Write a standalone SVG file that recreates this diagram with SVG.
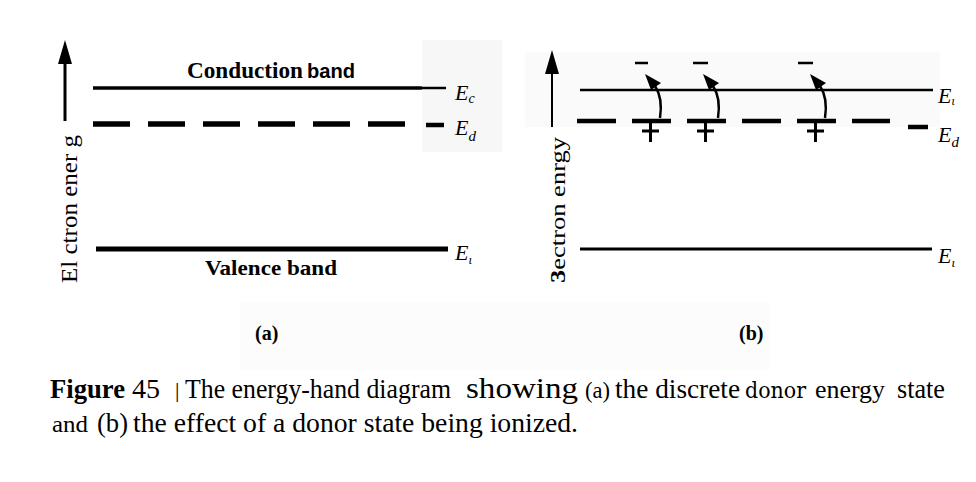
<svg xmlns="http://www.w3.org/2000/svg" width="976" height="482" viewBox="0 0 976 482">
<style>
.ser{font-family:"Liberation Serif","Times New Roman",serif;fill:#000}
.bold{font-weight:bold}
.ital{font-style:italic}
.san{font-family:"Liberation Sans",Arial,sans-serif;font-weight:bold;fill:#000}
.ln{stroke:#000;fill:none}
</style>
<defs>
<g id="jump">
<path d="M0,118 C2,105 1,95 -5,86" class="ln" stroke-width="2.5"/>
<polygon points="-15,74 -9,90 1,83" fill="#000"/>
</g>
</defs>
<rect width="976" height="482" fill="#fff"/>
<rect x="422" y="40" width="80" height="112" fill="#f7f7f7"/>
<rect x="525" y="52" width="415" height="75" fill="#fafafa"/>
<rect x="240" y="302" width="530" height="68" fill="#fcfcfc"/>

<g id="panel-a">
<line x1="65" y1="62" x2="65" y2="121" class="ln" stroke-width="3"/>
<polygon points="65,40 58,64 72,64" fill="#000"/>
<text class="ser bold" x="187" y="78" font-size="24" textLength="116" lengthAdjust="spacingAndGlyphs">Conduction</text>
<text class="san" x="307" y="78" font-size="21" textLength="48" lengthAdjust="spacingAndGlyphs">band</text>
<line x1="93" y1="88" x2="422" y2="88" class="ln" stroke-width="3.5"/>
<line x1="422" y1="88" x2="446" y2="88" class="ln" stroke-width="2.5"/>
<line x1="93" y1="124" x2="407" y2="124" class="ln" stroke-width="5.5" stroke-dasharray="37 18"/>
<line x1="426" y1="125" x2="444" y2="125" class="ln" stroke-width="4.5"/>
<line x1="96" y1="249" x2="448" y2="249" class="ln" stroke-width="5"/>
<text class="ser bold" x="205" y="275" font-size="22" textLength="132" lengthAdjust="spacingAndGlyphs">Valence band</text>
<text class="ser ital" x="455" y="100" font-size="22">E<tspan font-size="14" dy="3">c</tspan></text>
<text class="ser ital" x="455" y="135" font-size="22">E<tspan font-size="15" dy="6">d</tspan></text>
<text class="ser ital" x="455" y="260" font-size="22">E<tspan font-size="13" dy="4">ι</tspan></text>
<text class="ser" transform="translate(77,283) rotate(-90)" font-size="24" textLength="148" lengthAdjust="spacingAndGlyphs">El ctron ener g</text>
<text class="ser bold" x="255" y="340" font-size="20">(a)</text>
</g>

<g id="panel-b">
<line x1="552" y1="72" x2="552" y2="127" class="ln" stroke-width="2"/>
<polygon points="552,50 545,74 559,74" fill="#000"/>
<line x1="580" y1="90" x2="933" y2="90" class="ln" stroke-width="2.5"/>
<line x1="577" y1="121" x2="890" y2="121" class="ln" stroke-width="4.5" stroke-dasharray="39 16"/>
<line x1="908" y1="127" x2="928" y2="127" class="ln" stroke-width="4.5"/>
<line x1="580" y1="249" x2="932" y2="249" class="ln" stroke-width="3"/>
<g id="plus">
<path d="M642,131 H659 M650.5,123 V142" class="ln" stroke-width="3"/>
<path d="M697,131 H714 M705.5,123 V142" class="ln" stroke-width="3"/>
<path d="M807,131 H824 M815.5,123 V142" class="ln" stroke-width="3"/>
</g>
<g id="minus">
<path d="M635,63 H648 M693,63 H708 M798,63 H813" class="ln" stroke-width="2.5"/>
</g>
<g id="jumps">
<use href="#jump" x="660" y="0"/>
<use href="#jump" x="718" y="0"/>
<use href="#jump" x="825" y="0"/>
</g>
<text class="ser ital" x="938" y="103" font-size="22">E<tspan font-size="12" dy="2">ι</tspan></text>
<text class="ser ital" x="938" y="142" font-size="22">E<tspan font-size="15" dy="5">d</tspan></text>
<text class="ser ital" x="938" y="263" font-size="22">E<tspan font-size="13" dy="4">ι</tspan></text>
<text class="ser" transform="translate(565,283) rotate(-90)" font-size="21" textLength="146" lengthAdjust="spacingAndGlyphs"><tspan class="bold">3</tspan>ectron  enrgy</text>
<text class="ser bold" x="739" y="340" font-size="20">(b)</text>
</g>

<g id="caption">
<text class="ser bold" x="50" y="398" font-size="28" textLength="75" lengthAdjust="spacingAndGlyphs">Figure</text>
<text class="ser" x="132" y="398" font-size="28" textLength="28" lengthAdjust="spacingAndGlyphs">45</text>
<text class="ser" x="175" y="397" font-size="22">|</text>
<text class="ser" x="185" y="398" font-size="28" textLength="266" lengthAdjust="spacingAndGlyphs">The energy-hand diagram</text>
<text class="ser" x="466" y="398" font-size="29" textLength="112" lengthAdjust="spacingAndGlyphs">showing</text>
<text class="ser" x="585" y="398" font-size="24" textLength="25" lengthAdjust="spacingAndGlyphs">(a)</text>
<text class="ser" x="615" y="398" font-size="28" textLength="125" lengthAdjust="spacingAndGlyphs">the discrete</text>
<text x="745" y="398" font-family="DejaVu Serif,serif" font-size="22" textLength="61" lengthAdjust="spacingAndGlyphs">donor</text>
<text class="ser" x="815" y="398" font-size="25" textLength="70" lengthAdjust="spacingAndGlyphs">energy</text>
<text class="ser" x="897" y="398" font-size="28" textLength="48" lengthAdjust="spacingAndGlyphs">state</text>
<text class="ser" x="52" y="432" font-size="24" textLength="36" lengthAdjust="spacingAndGlyphs">and</text>
<text class="ser" x="97" y="432" font-size="28" textLength="31" lengthAdjust="spacingAndGlyphs">(b)</text>
<text class="ser" x="133" y="432" font-size="28" textLength="445" lengthAdjust="spacingAndGlyphs">the effect of a donor state being ionized.</text>
</g>
</svg>
